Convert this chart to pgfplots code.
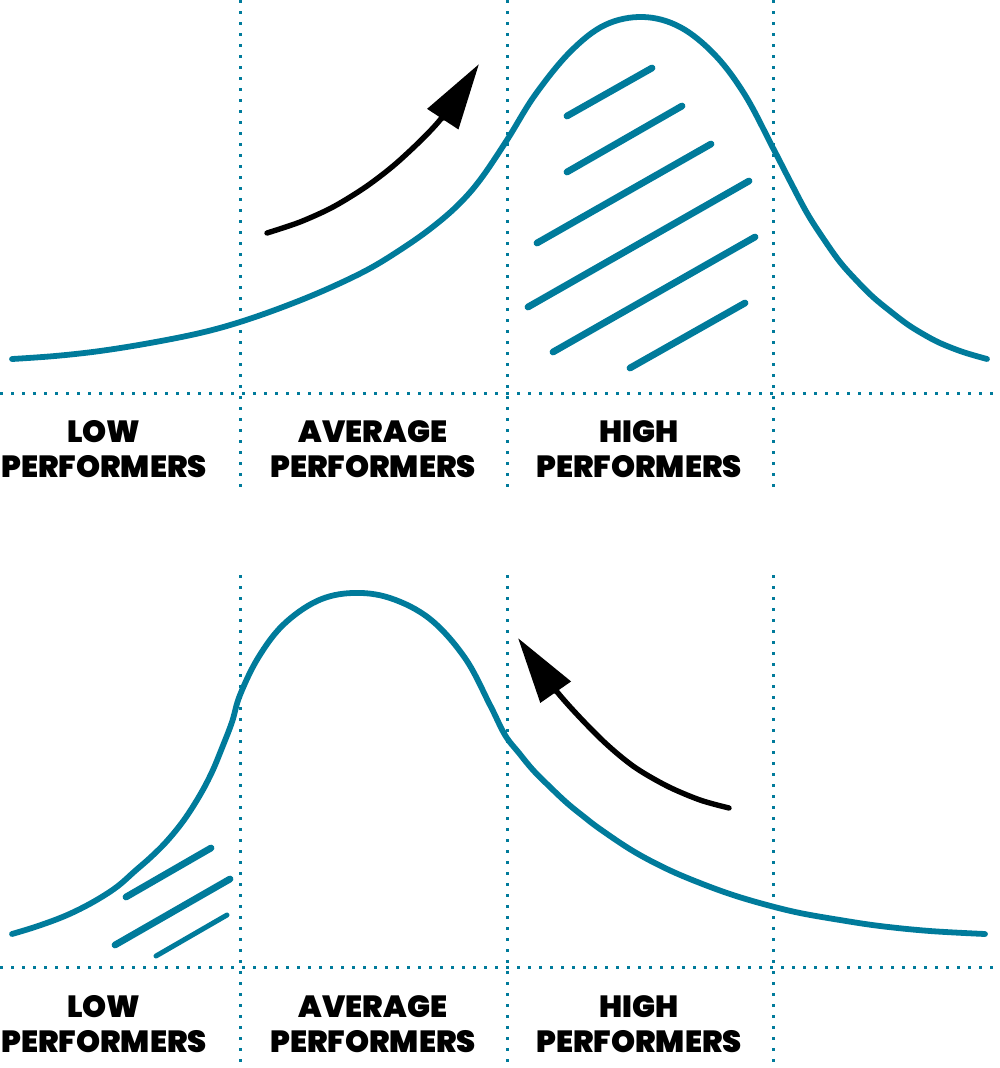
\documentclass[border=0pt]{standalone}
\usepackage{fontspec}
\setmainfont{Poppins}
\newfontfamily\labfont{Poppins Black}
\usepackage{pgfplots}
\pgfplotsset{compat=1.18}
\usetikzlibrary{arrows.meta}
\definecolor{teal}{RGB}{0,123,155}
\tikzset{
  dotline/.style={teal, line width=1.5pt, dash pattern=on 1.5pt off 4pt},
  curve/.style={teal, line width=2.9pt, line cap=round, line join=round},
  hatch/.style={teal, line width=3.4pt, line cap=round},
  lab/.style={anchor=base, font=\labfont\fontsize{15.3}{18}\selectfont, inner sep=0pt}}
\begin{document}
\begin{tikzpicture}
\begin{axis}[name=ax, scale only axis, width=500pt, height=534pt,
  xmin=0, xmax=1000, ymin=0, ymax=1068, y dir=reverse,
  hide axis, clip=false]
% dotted grid, top panel
\addplot[dotline] coordinates {(240,0) (240,492)};
\addplot[dotline] coordinates {(507,0) (507,492)};
\addplot[dotline] coordinates {(773,0) (773,492)};
\addplot[dotline] coordinates {(0,393) (1000,393)};
% dotted grid, bottom panel
\addplot[dotline] coordinates {(240,575) (240,1068)};
\addplot[dotline] coordinates {(507,575) (507,1068)};
\addplot[dotline] coordinates {(773,575) (773,1068)};
\addplot[dotline] coordinates {(0,967) (1000,967)};
% top curve
\addplot[curve, smooth, tension=0.6] coordinates {(12,359) (55,356) (100,351) (150,343) (200,333) (240,322) (283,307) (325,290) (367,270) (400,250) (430,229) (457,206) (480,180) (507,140) (535,95) (570,52) (605,25) (643,17) (680,27) (715,55) (745,95) (773,148) (790,181) (807,213) (823,238) (840,262) (857,281) (873,297) (890,311) (907,324) (923,334) (940,343) (963,352) (987,359)};
% bottom curve
\addplot[curve, smooth, tension=0.6] coordinates {(12,934) (35,927) (60,918) (80,909) (100,898) (118,886) (135,871) (151,857) (167,841) (184,820) (200,795) (212,772) (222,748) (232,722) (240,695) (258,658) (283,625) (317,601) (352,593) (390,598) (430,619) (465,658) (490,705) (505,735) (519,753) (533,770) (550,787) (567,803) (583,816) (600,829) (633,851) (667,869) (700,883) (733,895) (767,905) (800,913) (840,920) (880,926) (930,931) (985,934)};
% top hatch
\addplot[hatch] coordinates {(567,116) (652,68)};
\addplot[hatch] coordinates {(567,172) (682,106)};
\addplot[hatch] coordinates {(537,243) (711,144)};
\addplot[hatch] coordinates {(528,307) (749,181)};
\addplot[hatch] coordinates {(553,352) (755,237)};
\addplot[hatch] coordinates {(630,368) (745,303)};
% bottom hatch
\addplot[hatch] coordinates {(126,897) (211,848)};
\addplot[hatch] coordinates {(115,945) (230,879)};
\addplot[hatch, line width=2.5pt] coordinates {(156,956) (227,915)};
% arrows
\addplot[black, line width=2.7pt, line cap=round, smooth, -{Triangle[length=33pt,width=18pt]}] coordinates {(267,233) (300,222) (333,207) (367,186) (400,160) (440,120) (479,64)};
\addplot[black, line width=2.7pt, line cap=round, smooth, -{Triangle[length=33pt,width=18pt]}] coordinates {(729,808) (700,800) (667,786) (633,766) (600,738) (558,693) (518,638)};
% labels
\node[lab] at (axis cs:104,442) {LOW};
\node[lab] at (axis cs:104,477) {PERFORMERS};
\node[lab] at (axis cs:373,442) {AVERAGE};
\node[lab] at (axis cs:373,477) {PERFORMERS};
\node[lab] at (axis cs:639,442) {HIGH};
\node[lab] at (axis cs:639,477) {PERFORMERS};
\node[lab] at (axis cs:104,1017) {LOW};
\node[lab] at (axis cs:104,1052) {PERFORMERS};
\node[lab] at (axis cs:373,1017) {AVERAGE};
\node[lab] at (axis cs:373,1052) {PERFORMERS};
\node[lab] at (axis cs:639,1017) {HIGH};
\node[lab] at (axis cs:639,1052) {PERFORMERS};
\end{axis}
\pgfresetboundingbox
\path (ax.south west) rectangle (ax.north east);
\end{tikzpicture}
\end{document}
